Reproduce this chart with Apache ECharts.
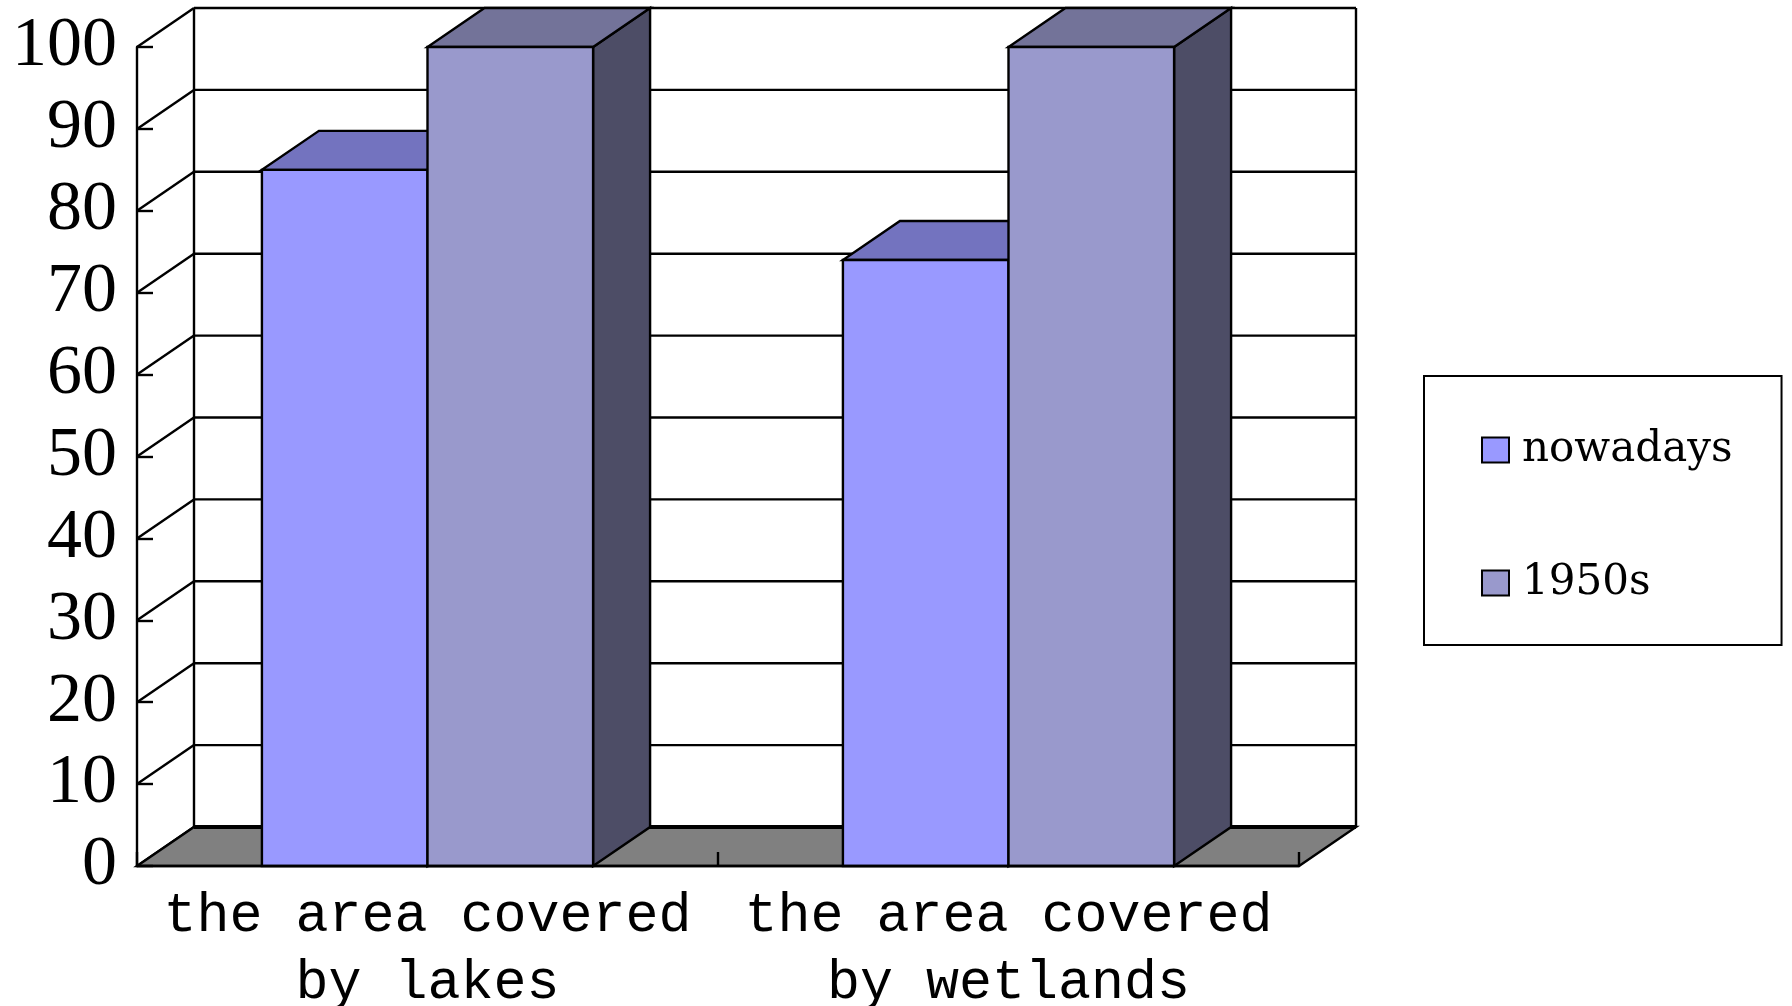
<!DOCTYPE html>
<html>
<head>
<meta charset="utf-8">
<title>Area covered by lakes and wetlands</title>
<script src="https://cdn.jsdelivr.net/npm/echarts@6/dist/echarts.min.js"></script>
<style>
  html, body { margin: 0; padding: 0; background: #ffffff; }
  #chart { width: 1792px; height: 1006px; }
</style>
</head>
<body>
<div id="chart"></div>
<script>
// Data
const categories = ['the area covered by lakes', 'the area covered by wetlands'];
const seriesNames = ['nowadays', '1950s'];
const nowadays = [85, 74];
const fifties = [100, 100];
const yTicks = [0, 10, 20, 30, 40, 50, 60, 70, 80, 90, 100];

// 3D look: depth offset of the back plane (pixels)
const DX = 57;
const DY = 39;
const BAR_FRACTION = 0.285; // bar width as a share of the category band
const LINE_W = 2.4;

const faceColors = [
  { front: '#9999FF', top: '#7373BF', side: '#4D4D80' },
  { front: '#9999CC', top: '#737399', side: '#4D4D66' }
];

const chart = echarts.init(document.getElementById('chart'), null, { renderer: 'canvas' });

// back wall gridlines and left wall diagonals, one per y tick
function renderWallLine(params, api) {
  const cs = params.coordSys;
  const v = api.value(1);
  const y = api.coord([0, v])[1];
  const gx = cs.x, gw = cs.width;
  const children = [{
    type: 'line',
    shape: { x1: gx, y1: y, x2: gx + DX, y2: y - DY },
    style: { stroke: '#000', lineWidth: LINE_W }
  }];
  if (v !== 0) {
    children.push({
      type: 'line',
      shape: { x1: gx + DX, y1: y - DY, x2: gx + gw + DX, y2: y - DY },
      style: { stroke: '#000', lineWidth: LINE_W }
    });
  }
  return { type: 'group', children: children };
}

// floor and back wall edges
function renderFrame(params, api) {
  const cs = params.coordSys;
  const gx = cs.x, gw = cs.width;
  const y0 = api.coord([0, 0])[1];
  const yTop = api.coord([0, yTicks[yTicks.length - 1]])[1];
  return {
    type: 'group',
    children: [
      {
        type: 'polygon',
        shape: { points: [[gx, y0], [gx + gw, y0], [gx + gw + DX, y0 - DY], [gx + DX, y0 - DY]] },
        style: { fill: '#808080', stroke: '#000', lineWidth: LINE_W }
      },
      {
        type: 'line',
        shape: { x1: gx + DX, y1: y0 - DY, x2: gx + gw + DX, y2: y0 - DY },
        style: { stroke: '#000', lineWidth: 4 }
      },
      {
        type: 'line',
        shape: { x1: gx + DX, y1: yTop - DY, x2: gx + DX, y2: y0 - DY },
        style: { stroke: '#000', lineWidth: LINE_W }
      },
      {
        type: 'line',
        shape: { x1: gx + gw + DX, y1: yTop - DY, x2: gx + gw + DX, y2: y0 - DY },
        style: { stroke: '#000', lineWidth: LINE_W }
      }
    ]
  };
}

// a 3D column: front face, top face and right side face
function makeBarRenderer(seriesIdx) {
  return function (params, api) {
    const cat = api.value(0);
    const val = api.value(1);
    const top = api.coord([cat, val]);
    const base = api.coord([cat, 0]);
    const band = api.size([1, 0])[0];
    const w = band * BAR_FRACTION;
    const x0 = top[0] + (seriesIdx - 1) * w;
    const yT = top[1], yB = base[1];
    const c = faceColors[seriesIdx];
    const edge = { stroke: '#000', lineWidth: LINE_W, lineJoin: 'miter' };
    return {
      type: 'group',
      children: [
        {
          type: 'polygon',
          shape: { points: [[x0 + w, yT], [x0 + w + DX, yT - DY], [x0 + w + DX, yB - DY], [x0 + w, yB]] },
          style: Object.assign({ fill: c.side }, edge)
        },
        {
          type: 'polygon',
          shape: { points: [[x0, yT], [x0 + w, yT], [x0 + w + DX, yT - DY], [x0 + DX, yT - DY]] },
          style: Object.assign({ fill: c.top }, edge)
        },
        {
          type: 'rect',
          shape: { x: x0, y: yT, width: w, height: yB - yT },
          style: Object.assign({ fill: c.front }, edge)
        }
      ]
    };
  };
}

const option = {
  backgroundColor: '#ffffff',
  animation: false,
  grid: { left: 137, right: 493, top: 47, bottom: 140, containLabel: false, outerBoundsMode: 'none' },
  legend: {
    orient: 'vertical',
    left: 1424,
    top: 376,
    padding: [49, 49, 37, 57],
    itemGap: 83,
    itemWidth: 27,
    itemHeight: 25,
    borderColor: '#000',
    borderWidth: 2,
    backgroundColor: '#fff',
    textStyle: {
      fontFamily: 'DejaVu Serif',
      fontSize: 42,
      lineHeight: 50,
      color: '#000',
      padding: [0, 0, 0, 8]
    },
    data: seriesNames.map(function (n, i) {
      return {
        name: n,
        icon: 'rect',
        itemStyle: { color: faceColors[i].front, borderColor: '#000', borderWidth: 2 }
      };
    })
  },
  xAxis: {
    type: 'category',
    data: categories,
    z: 5,
    axisLine: { show: true, lineStyle: { color: '#000', width: LINE_W } },
    axisTick: { show: true, inside: true, length: 14, alignWithLabel: false, lineStyle: { color: '#000', width: LINE_W } },
    axisLabel: {
      interval: 0,
      margin: 17,
      color: '#000',
      fontFamily: 'Liberation Mono',
      fontSize: 55,
      lineHeight: 67,
      formatter: function (v) { return v.replace(' by ', '\nby '); }
    },
    splitLine: { show: false }
  },
  yAxis: {
    type: 'value',
    min: 0,
    max: 100,
    interval: 10,
    z: 5,
    axisLine: { show: true, lineStyle: { color: '#000', width: LINE_W } },
    axisTick: { show: true, inside: true, length: 16, lineStyle: { color: '#000', width: LINE_W } },
    axisLabel: {
      margin: 20,
      color: '#000',
      fontFamily: 'Liberation Serif',
      fontSize: 70
    },
    splitLine: { show: false }
  },
  series: [
    {
      name: 'walls',
      type: 'custom',
      z: 1,
      silent: true,
      renderItem: renderWallLine,
      encode: { x: 0, y: 1 },
      data: yTicks.map(function (v) { return [0, v]; })
    },
    {
      name: 'floor',
      type: 'custom',
      z: 1,
      silent: true,
      renderItem: renderFrame,
      encode: { x: 0, y: 1 },
      data: [[0, 0]]
    },
    {
      name: seriesNames[0],
      type: 'custom',
      z: 2,
      itemStyle: { color: faceColors[0].front },
      renderItem: makeBarRenderer(0),
      encode: { x: 0, y: 1 },
      data: nowadays.map(function (v, i) { return [i, v]; })
    },
    {
      name: seriesNames[1],
      type: 'custom',
      z: 3,
      itemStyle: { color: faceColors[1].front },
      renderItem: makeBarRenderer(1),
      encode: { x: 0, y: 1 },
      data: fifties.map(function (v, i) { return [i, v]; })
    }
  ]
};

chart.setOption(option);
</script>
</body>
</html>
